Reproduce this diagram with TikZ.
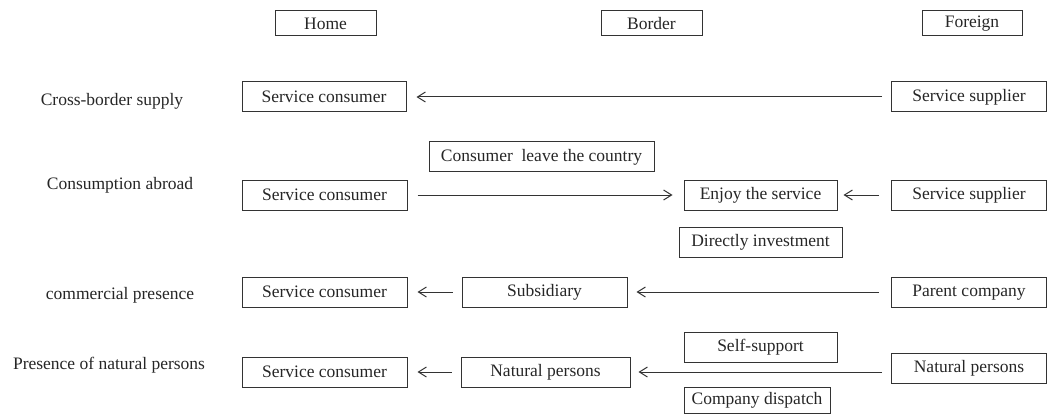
\documentclass[tikz,border=0pt]{standalone}
\usepackage{fontspec}
\setmainfont{Liberation Serif}
\usetikzlibrary{arrows.meta}
\tikzset{
 box/.style={rectangle,draw=black!80,line width=1pt,minimum height=30pt,inner sep=2pt,font=\fontsize{17.5}{20}\selectfont,text=black!85},
 head/.style={box,minimum height=25pt,minimum width=101pt},
 mode/.style={font=\fontsize{17.5}{20}\selectfont,text=black!85},
 arrow/.style={-{Straight Barb[length=8pt,width=10pt]},line width=1pt,draw=black!80,shorten <=9pt,shorten >=10pt}}
\begin{document}
\begin{tikzpicture}[x=1pt,y=-1pt]
\useasboundingbox (0,0) rectangle (1048,414);
% column headers
\node[head] (home) at (325.5,23.5) {Home};
\node[head] (border) at (651.5,23.5) {Border};
\node[head,minimum width=100pt] (foreign) at (972,23.5) {Foreign};
% mode labels
\node[mode] (cross) at (112,101) {Cross-border supply};
\node[mode] (abroad) at (120,185) {Consumption abroad};
\node[mode] (presence) at (120,295) {commercial presence};
\node[mode] (natural) at (109,365) {Presence of natural persons};
% cross-border supply
\node[box,minimum width=164pt] (conA) at (324,97) {Service consumer};
\node[box,minimum width=155pt] (supA) at (969,97) {Service supplier};
\draw[arrow] (supA)--(conA);
% consumption abroad
\node[box,minimum width=225pt] (leave) at (541.5,157) {Consumer~ leave the country};
\node[box,minimum width=165pt] (conB) at (324.5,195) {Service consumer};
\node[box,minimum width=153pt] (enjoy) at (760.5,195) {Enjoy the service};
\node[box,minimum width=155pt] (supB) at (969,195) {Service supplier};
\draw[arrow,shorten <=10pt,shorten >=11pt] (conB)--(enjoy);
\draw[arrow,shorten <=12pt,shorten >=6pt] (supB)--(enjoy);
% commercial presence
\node[box,minimum width=163pt] (invest) at (760.5,242) {Directly investment};
\node[box,minimum width=165pt] (conC) at (324.5,292) {Service consumer};
\node[box,minimum width=165pt] (subsid) at (544.5,292) {Subsidiary};
\node[box,minimum width=155pt] (parent) at (969,292.5) {Parent company};
\draw[arrow] (subsid)--(conC);
\draw[arrow,shorten <=12pt,shorten >=9pt] (parent.west |- subsid.east)--(subsid.east);
% presence of natural persons
\node[box,minimum width=153pt] (self) at (760.5,347) {Self-support};
\node[box,minimum width=165pt] (conD) at (324.5,372) {Service consumer};
\node[box,minimum width=169pt] (persH) at (545.5,372) {Natural persons};
\node[box,minimum width=155pt] (persF) at (969,368) {Natural persons};
\node[box,minimum width=146pt,minimum height=26pt] (dispatch) at (757,400.5) {Company dispatch};
\draw[arrow,shorten >=10pt] (persH)--(conD);
\draw[arrow,shorten >=8pt] (persF.west |- persH.east)--(persH.east);
\end{tikzpicture}
\end{document}
